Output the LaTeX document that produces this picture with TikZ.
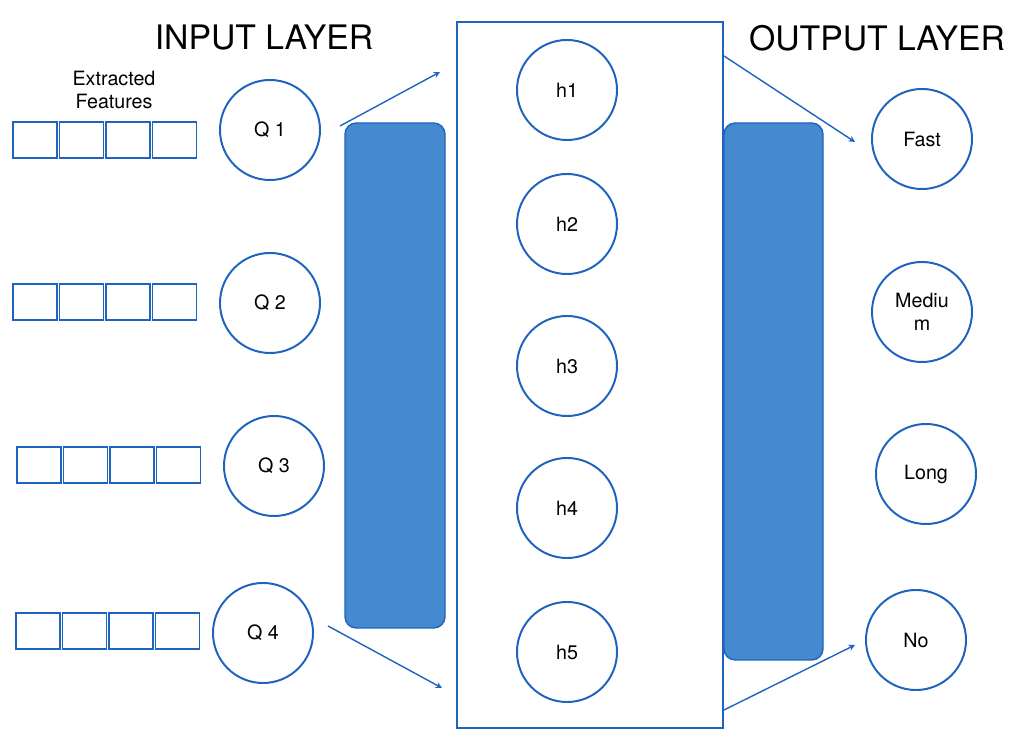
\documentclass[tikz,border=0pt]{standalone}
\usepackage{fontspec}
\setmainfont{TeX Gyre Heros}
\usetikzlibrary{positioning}
\definecolor{lineblue}{RGB}{30,100,190}
\definecolor{barblue}{RGB}{69,137,208}
\tikzset{
	neuron/.style={circle, draw=lineblue, line width=1.4pt, fill=white, minimum size=2.5cm, inner sep=0pt, align=center, font=\fontsize{14}{16}\selectfont},
	feat/.style={draw=lineblue, line width=1.4pt, minimum width=1.1cm, minimum height=0.9cm, inner sep=0pt},
	bar/.style={draw=lineblue, line width=1pt, fill=barblue, rounded corners=8pt},
	flow/.style={->, lineblue, line width=1pt, >=stealth},
	title/.style={font=\fontsize{24}{28}\selectfont}
}
\begin{document}
\begin{tikzpicture}[x=0.025cm, y=-0.025cm]
		
		\useasboundingbox (0,0) rectangle (1014,740);
		
		% titles
		\node[title] (inTitle) at (264,38) {INPUT LAYER};
		\node[title] (outTitle) at (877,38) {OUTPUT LAYER};
		\node[align=center, font=\fontsize{14}{17}\selectfont] (featText) at (114,90) {Extracted\\Features};
		
		% blue bars and hidden frame
		\draw[bar] (345,123) rectangle (445,628);
		\draw[bar] (724,123) rectangle (823,660);
		\draw[lineblue, line width=1.4pt] (457,22) rectangle (723,728);
		
		% feature boxes
		\foreach \r/\x/\y in {1/12/140, 2/12/302, 3/16/465, 4/15/631}{
			\foreach \k in {0,...,3}{
				\node[feat] (f\r\k) at (\x+23+\k*46.5,\y) {};
			}
		}
		
		% input neurons
		\node[neuron] (q1) at (270,130) {Q 1};
		\node[neuron] (q2) at (270,303) {Q 2};
		\node[neuron] (q3) at (274,466) {Q 3};
		\node[neuron] (q4) at (263,633) {Q 4};
		
		% hidden neurons
		\foreach \i/\y in {1/90, 2/224, 3/366, 4/508, 5/652}{
			\node[neuron] (h\i) at (567,\y) {h\i};
		}
		
		% output neurons
		\node[neuron] (fast) at (922,139) {Fast};
		\node[neuron] (medium) at (922,312) {Mediu\\m};
		\node[neuron] (long) at (926,474) {Long};
		\node[neuron] (no) at (916,640) {No};
		
		% arrows
		\coordinate (a1) at (340,126);
		\coordinate (a2) at (440,72);
		\coordinate (b1) at (328,626);
		\coordinate (b2) at (442,688);
		\coordinate (c1) at (724,56);
		\coordinate (c2) at (855,142);
		\coordinate (d1) at (724,710);
		\coordinate (d2) at (855,645);
		\draw[flow] (a1) -- (a2);
		\draw[flow] (b1) -- (b2);
		\draw[flow] (c1) -- (c2);
		\draw[flow] (d1) -- (d2);
		
\end{tikzpicture}
\end{document}
